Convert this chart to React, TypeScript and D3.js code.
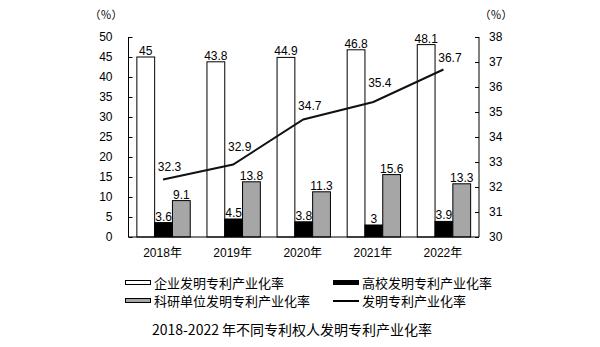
import React from "react";
import * as d3 from "d3";

const years = ["2018年", "2019年", "2020年", "2021年", "2022年"];
const enterprise = [45, 43.8, 44.9, 46.8, 48.1];
const university = [3.6, 4.5, 3.8, 3, 3.9];
const research = [9.1, 13.8, 11.3, 15.6, 13.3];
const overall = [32.3, 32.9, 34.7, 35.4, 36.7];
const leftTicks = [0, 5, 10, 15, 20, 25, 30, 35, 40, 45, 50];
const rightTicks = [30, 31, 32, 33, 34, 35, 36, 37, 38];
const lineLabelDy = [-13, -18, -14, -19, -12];

const seriesNames = ["企业发明专利产业化率", "高校发明专利产业化率", "科研单位发明专利产业化率", "发明专利产业化率"];
const title = "2018-2022 年不同专利权人发明专利产业化率";
const unit = "（％）";

const FONT = "'Liberation Sans', 'Noto Sans CJK SC', sans-serif";
const CJK = "'Noto Sans CJK SC', sans-serif";

export default function App() {
  const W = 600, H = 347;
  const left = 128.5, right = 479, top = 37, bottom = 237;
  const x = d3.scaleBand<string>().domain(years).range([left, right]).paddingInner(0.2386).paddingOuter(0.1193);
  const sub = d3.scaleBand<string>().domain(["e", "u", "r"]).range([0, x.bandwidth()]);
  const yL = d3.scaleLinear().domain([0, 50]).range([bottom, top]);
  const yR = d3.scaleLinear().domain([30, 38]).range([bottom, top]);
  const series = [
    { key: "e", vals: enterprise, fill: "#ffffff" },
    { key: "u", vals: university, fill: "#000000" },
    { key: "r", vals: research, fill: "#a6a6a6" },
  ];
  const cx = (i: number) => (x(years[i]) as number) + x.bandwidth() / 2;
  const line = d3.line<number>().x((_, i) => cx(i) - 0.5).y((d) => yR(d));

  return (
    <svg width={W} height={H} style={{ position: "absolute", left: 0, top: 0, background: "#fff" }} fontFamily={FONT}>
      <rect x={0} y={0} width={W} height={H} fill="#fff" />
      {series.map((s) =>
        s.vals.map((v, i) => {
          const bx = (x(years[i]) as number) + (sub(s.key) as number);
          const bw = sub.bandwidth();
          return (
            <g key={s.key + i}>
              <rect x={bx} y={yL(v)} width={bw} height={bottom - yL(v)} fill={s.fill} stroke="#000" strokeWidth={1} />
              <text x={bx + bw / 2} y={yL(v) - 2} textAnchor="middle" fontSize={12} fill="#000">{v}</text>
            </g>
          );
        })
      )}
      <path d={line(overall) as string} fill="none" stroke="#111" strokeWidth={2} />
      {overall.map((v, i) => (
        <text key={"l" + i} x={cx(i) + 6} y={yR(v) + lineLabelDy[i] + 4} textAnchor="middle" fontSize={12} fill="#000">{v}</text>
      ))}
      <line x1={left} x2={left} y1={top} y2={bottom} stroke="#000" />
      <line x1={right} x2={right} y1={top} y2={bottom} stroke="#000" />
      <line x1={left} x2={right} y1={bottom} y2={bottom} stroke="#000" />
      {leftTicks.map((t) => (
        <g key={"lt" + t}>
          <line x1={left} x2={left + 4} y1={Math.round(yL(t)) + 0.5} y2={Math.round(yL(t)) + 0.5} stroke="#000" />
          <text x={left - 16} y={yL(t) + 4} textAnchor="end" fontSize={12}>{t}</text>
        </g>
      ))}
      {rightTicks.map((t) => (
        <g key={"rt" + t}>
          <line x1={right - 4} x2={right} y1={Math.round(yR(t)) + 0.5} y2={Math.round(yR(t)) + 0.5} stroke="#000" />
          <text x={right + 10} y={yR(t) + 4} textAnchor="start" fontSize={12}>{t}</text>
        </g>
      ))}
      {years.map((yv, i) => (
        <text key={"x" + i} x={cx(i) - 1} y={257} textAnchor="middle" fontSize={12} fontFamily={FONT}>{yv}</text>
      ))}
      <text x={106} y={19} textAnchor="middle" fontSize={11} fontFamily={CJK}>{unit}</text>
      <text x={496} y={19} textAnchor="middle" fontSize={11} fontFamily={CJK}>{unit}</text>
      {[
        { lx: 125, ly: 283, type: "rect", fill: "#fff" },
        { lx: 333, ly: 283, type: "rect", fill: "#000" },
        { lx: 125, ly: 301, type: "rect", fill: "#a6a6a6" },
        { lx: 333, ly: 301, type: "line", fill: "#000" },
      ].map((l, i) => (
        <g key={"lg" + i}>
          {l.type === "rect" ? (
            <rect x={l.lx + 0.5} y={l.ly - 2.5} width={25} height={4} fill={l.fill} stroke="#000" strokeWidth={1} />
          ) : (
            <line x1={l.lx} x2={l.lx + 26} y1={l.ly} y2={l.ly} stroke="#000" strokeWidth={2} />
          )}
          <text x={l.lx + 29} y={l.ly + 5} fontSize={13} fontFamily={CJK}>{seriesNames[i]}</text>
        </g>
      ))}
      <text x={292} y={335} textAnchor="middle" fontSize={14} fontFamily={CJK}>{title}</text>
    </svg>
  );
}
